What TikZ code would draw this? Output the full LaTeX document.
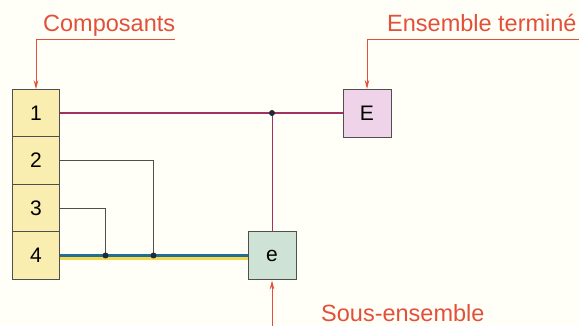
\documentclass[tikz,border=0pt]{standalone}
\usepackage{fontspec}
\setmainfont{Liberation Sans}
\usepackage{tikz}
\usetikzlibrary{positioning, calc, arrows.meta}
\definecolor{paper}{HTML}{FFFEF7}
\definecolor{partyellow}{HTML}{F9EDB0}
\definecolor{finalpink}{HTML}{EFD3E8}
\definecolor{subgreen}{HTML}{CFE2D6}
\definecolor{tagred}{HTML}{E2503A}
\definecolor{mainpurple}{HTML}{A3305F}
\definecolor{linkblue}{HTML}{1F6E98}
\definecolor{linkyellow}{HTML}{F2D84A}
\definecolor{boxgray}{HTML}{4F4F4F}
\definecolor{dotnavy}{HTML}{1C2A3C}

\begin{document}
\begin{tikzpicture}[x=1pt, y=1pt,
  part/.style={rectangle, draw=boxgray, line width=0.9pt, fill=partyellow, minimum width=47pt, minimum height=47.5pt, outer sep=0pt, inner sep=0pt, font=\fontsize{21}{25}\selectfont},
  assy/.style={part, minimum width=48pt, minimum height=48pt},
  tag/.style={text=tagred, inner sep=0pt, anchor=base west, font=\fontsize{23.5}{28}\selectfont},
  tagline/.style={draw=tagred, line width=0.9pt},
  tagarrow/.style={-{Stealth[length=9pt, width=4.5pt]}, draw=tagred, line width=0.9pt},
  mainline/.style={draw=mainpurple, line width=1.6pt},
  subline/.style={draw=mainpurple, line width=1pt},
  wire/.style={draw=boxgray, line width=0.9pt},
  junction/.style={circle, fill=dotnavy, inner sep=0pt, minimum size=6pt}
]
  \useasboundingbox[fill=paper] (0,0) rectangle (579,326);

  % components stack
  \node[part] (b1) at (36,213) {1};
  \node[part, below=0pt of b1] (b2) {2};
  \node[part, below=0pt of b2] (b3) {3};
  \node[part, below=0pt of b3] (b4) {4};

  \node[assy, fill=finalpink] (E) at (367,213) {E};
  \node[assy, fill=subgreen] (e) at (272,70.5) {e};

  % labels
  \node[tag] (compo) at (43,294) {Composants};
  \node[tag] (final) at (387,294) {Ensemble terminé};
  \node[tag] (sub) at (321,4) {Sous-ensemble};

  \coordinate (ck) at (b1.north |- 0,287);
  \coordinate (fk) at (E.north |- 0,287);
  \coordinate (sk) at (e.south |- 0,0);
  \draw[tagline] (ck) -- (compo.east |- ck);
  \draw[tagline] (fk) -- (579,287);
  \draw[tagarrow] (ck) -- (b1.north);
  \draw[tagarrow] (fk) -- (E.north);
  \draw[tagarrow] (sk) -- ([yshift=-1pt]e.south);

  % links
  \coordinate (j1) at (e |- b1);
  \coordinate[right=46pt of b4.east] (j3);
  \coordinate[right=94pt of b4.east] (j2);

  \draw[mainline] (b1.east) -- (E.west);
  \draw[subline] (j1) -- (e.north);
  \draw[wire] (b2.east) -| (j2);
  \draw[wire] (b3.east) -| (j3);
  \draw[draw=linkyellow, line width=2.6pt] ([yshift=-3pt]b4.east) -- ([yshift=-3pt]e.west);
  \draw[draw=linkblue, line width=2.6pt] (b4.east) -- (e.west);

  \node[junction] at (j1) {};
  \node[junction] at (j2) {};
  \node[junction] at (j3) {};
\end{tikzpicture}
\end{document}
